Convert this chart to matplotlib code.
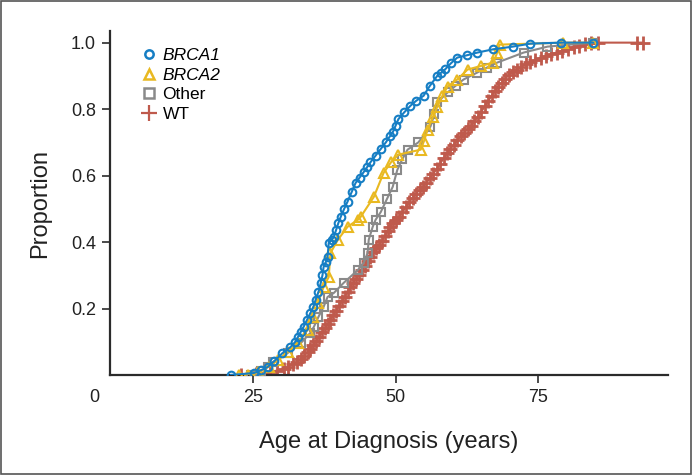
#!/usr/bin/env python3
"""cumulative proportion by age at diagnosis"""

import matplotlib

matplotlib.use("Agg")
import matplotlib.pyplot as plt
from matplotlib.lines import Line2D
from matplotlib.patches import Rectangle

# BRCA1 carriers
brca1_age = [21.2, 25.2, 26.5, 27.6, 28.8, 30.2, 31.6, 32.4, 32.9, 33.4,
             33.9, 34.5, 35.1, 35.6, 36.0, 36.5, 36.9, 37.2, 37.4, 37.8,
             38.1, 38.3, 38.8, 39.2, 39.6, 40.0, 40.4, 41.0, 41.6, 42.3,
             43.0, 43.7, 44.4, 45.0, 45.6, 46.5, 47.4, 48.3, 49.0, 49.5,
             50.0, 50.5, 51.5, 52.6, 53.6, 54.9, 56.0, 57.3, 58.0, 58.7,
             59.7, 60.8, 62.5, 64.3, 67.1, 70.5, 73.6, 79.0, 84.6]
brca1_prop = [0, 0.006, 0.015, 0.024, 0.042, 0.066, 0.084, 0.099, 0.114, 0.130,
              0.145, 0.166, 0.187, 0.205, 0.226, 0.250, 0.277, 0.300, 0.325, 0.340,
              0.355, 0.398, 0.405, 0.416, 0.437, 0.458, 0.476, 0.500, 0.522, 0.550,
              0.578, 0.594, 0.610, 0.625, 0.640, 0.660, 0.680, 0.700, 0.718, 0.730,
              0.750, 0.770, 0.790, 0.810, 0.825, 0.840, 0.870, 0.900, 0.910, 0.920,
              0.938, 0.955, 0.962, 0.970, 0.980, 0.988, 0.997, 1.0, 1.0]

# BRCA2 carriers
brca2_age = [22.5, 24.1, 26.0, 27.8, 29.4, 31.2, 32.9, 34.6, 35.5, 36.4,
             37.4, 38.3, 38.6, 39.9, 41.6, 43.4, 43.9, 46.2, 47.9, 49.2,
             50.5, 54.4, 55.0, 55.6, 56.5, 57.3, 58.2, 59.1, 60.8, 62.6,
             65.0, 67.1, 67.8, 68.2, 79.4, 84.6]
brca2_prop = [0, 0, 0.009, 0.025, 0.045, 0.070, 0.096, 0.136, 0.175, 0.217,
              0.265, 0.295, 0.367, 0.407, 0.446, 0.467, 0.476, 0.536, 0.608, 0.640,
              0.663, 0.678, 0.705, 0.738, 0.775, 0.807, 0.840, 0.868, 0.889, 0.919,
              0.930, 0.940, 0.970, 0.994, 1.0, 1.0]

# other mutations
other_age = [24.7, 26.5, 27.6, 28.5, 31.1, 33.4, 35.1, 35.7, 36.5, 37.4,
             38.1, 39.2, 40.9, 43.4, 44.4, 45.1, 45.3, 46.0, 46.5, 47.4,
             48.5, 49.5, 50.3, 51.2, 52.1, 54.0, 56.1, 56.8, 57.3, 59.1,
             60.5, 61.9, 64.3, 66.0, 67.8, 72.4, 76.6, 84.6]
other_prop = [0, 0.012, 0.024, 0.039, 0.066, 0.096, 0.127, 0.145, 0.175, 0.205,
              0.235, 0.247, 0.277, 0.316, 0.337, 0.367, 0.407, 0.446, 0.467, 0.490,
              0.530, 0.566, 0.617, 0.650, 0.678, 0.700, 0.747, 0.785, 0.820, 0.850,
              0.870, 0.889, 0.910, 0.925, 0.940, 0.970, 0.988, 1.0]

# wild type
wt_age = [22.9, 25.5, 26.9, 28.0, 29.2, 30.4, 31.2, 32.0, 32.8, 33.4,
          34.0, 34.6, 35.1, 35.6, 36.1, 36.6, 37.1, 37.6, 38.1, 38.6,
          39.1, 39.6, 40.1, 40.6, 41.1, 41.6, 42.1, 42.6, 43.1, 43.6,
          44.1, 44.6, 45.1, 45.6, 46.1, 46.6, 47.1, 47.6, 48.1, 48.6,
          49.1, 49.6, 50.1, 50.6, 51.2, 51.8, 52.4, 53.0, 53.6, 54.2,
          54.8, 55.4, 56.0, 56.6, 57.2, 57.8, 58.4, 59.0, 59.6, 60.2,
          60.8, 61.4, 62.0, 62.6, 63.2, 63.8, 64.4, 65.0, 65.6, 66.2,
          66.8, 67.4, 68.0, 68.6, 69.2, 69.8, 70.5, 71.2, 72.0, 72.8,
          73.6, 74.5, 75.4, 76.3, 77.2, 78.2, 79.2, 80.2, 81.2, 82.2,
          83.2, 84.2, 85.5, 92.3, 93.3]
wt_prop = [0, 0.003, 0.006, 0.010, 0.013, 0.018, 0.025, 0.032, 0.040, 0.048,
           0.058, 0.068, 0.078, 0.090, 0.102, 0.115, 0.128, 0.140, 0.152, 0.166,
           0.180, 0.194, 0.208, 0.222, 0.236, 0.250, 0.265, 0.278, 0.290, 0.302,
           0.315, 0.328, 0.342, 0.356, 0.369, 0.381, 0.392, 0.404, 0.418, 0.432,
           0.446, 0.458, 0.467, 0.476, 0.490, 0.505, 0.520, 0.534, 0.546, 0.557,
           0.567, 0.578, 0.592, 0.606, 0.620, 0.636, 0.652, 0.667, 0.680, 0.693,
           0.706, 0.718, 0.728, 0.740, 0.750, 0.763, 0.777, 0.792, 0.808, 0.824,
           0.840, 0.855, 0.868, 0.880, 0.892, 0.902, 0.911, 0.919, 0.927, 0.935,
           0.941, 0.948, 0.954, 0.960, 0.965, 0.970, 0.976, 0.982, 0.987, 0.991,
           0.995, 0.998, 1.0, 1.0, 1.0]

x_ticks = [25, 50, 75]
y_ticks = [0.2, 0.4, 0.6, 0.8, 1.0]

BLUE = "#167ec4"
YELLOW = "#e9b921"
GRAY = "#8a8a8a"
RED = "#bf5a4c"
AXIS = "#2b2b2b"
TEXT = "#222222"


def main():
    plt.rcParams["font.family"] = ["Liberation Sans", "DejaVu Sans"]
    fig = plt.figure(figsize=(6.92, 4.75), dpi=100)
    ax = fig.add_axes([110 / 692, 100 / 475, 558 / 692, 344 / 475])

    ax.plot(wt_age, wt_prop, color=RED, lw=1.5, marker="+", ms=10, mew=2,
            zorder=2)
    ax.plot(other_age, other_prop, color=GRAY, lw=1.5, marker="s", ms=5.5,
            mfc="none", mew=1.5, zorder=3)
    ax.plot(brca2_age, brca2_prop, color=YELLOW, lw=1.5, marker="^", ms=6.5,
            mfc="none", mew=1.5, zorder=4)
    ax.plot(brca1_age, brca1_prop, color=BLUE, lw=1.5, marker="o", ms=5.5,
            mfc="none", mew=1.5, zorder=5)

    ax.set_xlim(0, 97.7)
    ax.set_ylim(0, 1.035)
    ax.set_xticks(x_ticks)
    ax.set_yticks(y_ticks)
    ax.set_yticklabels([f"{v:.1f}" for v in y_ticks])
    ax.tick_params(direction="out", length=6, width=1.2, color=AXIS,
                   labelsize=13, labelcolor=TEXT, pad=4)
    for side in ("top", "right"):
        ax.spines[side].set_visible(False)
    for side in ("left", "bottom"):
        ax.spines[side].set_linewidth(1.6)
        ax.spines[side].set_color(AXIS)

    # shared origin label
    fig.text(99 / 692, 1 - 397 / 475, "0", ha="right", va="center",
             fontsize=13, color=TEXT)

    ax.set_xlabel("Age at Diagnosis (years)", fontsize=17, color=TEXT,
                  labelpad=18)
    ax.set_ylabel("Proportion", fontsize=17, color=TEXT, labelpad=14)

    handles = [
        Line2D([], [], ls="none", marker="o", ms=6, mfc="none", mew=1.8,
               color=BLUE),
        Line2D([], [], ls="none", marker="^", ms=7, mfc="none", mew=1.8,
               color=YELLOW),
        Line2D([], [], ls="none", marker="s", ms=6.5, mfc="none", mew=1.8,
               color=GRAY),
        Line2D([], [], ls="none", marker="+", ms=11, mew=1.6, color=RED),
    ]
    leg = ax.legend(handles, ["BRCA1", "BRCA2", "Other", "WT"],
                    loc="upper left", bbox_to_anchor=(0.035, 0.985),
                    frameon=False, fontsize=12.5, handlelength=0.8,
                    handletextpad=0.4, labelspacing=0.25, borderpad=0.2)
    for txt in leg.get_texts()[:2]:
        txt.set_fontstyle("italic")

    # thin frame round the whole picture
    fig.patches.append(Rectangle((0.001, 0.002), 0.997, 0.996,
                                 transform=fig.transFigure, fill=False,
                                 lw=1.2, ec="#555555"))

    fig.savefig("out.png", dpi=100)


if __name__ == "__main__":
    main()
